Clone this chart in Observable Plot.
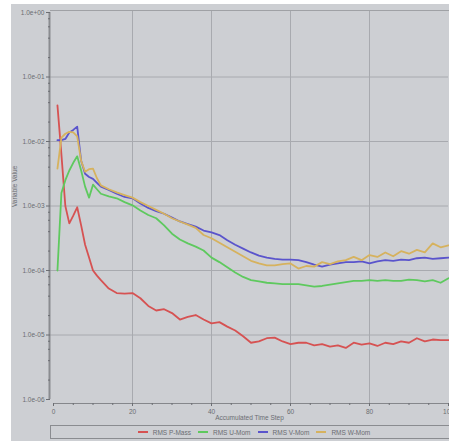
<!DOCTYPE html>
<html><head><meta charset="utf-8">
<script src="https://cdn.jsdelivr.net/npm/d3@7"></script>
<script src="https://cdn.jsdelivr.net/npm/@observablehq/plot@0.6"></script>
<style>
html,body{margin:0;padding:0;background:#fff;overflow:hidden;width:449px;height:441px;}
#panel{position:absolute;left:11px;top:4px;width:438px;height:437px;background:#cdcfd3;}
#chart{position:absolute;left:0;top:0;}
#legend{position:absolute;left:39px;top:421px;width:406px;height:12px;border:1px solid #8a8c90;display:flex;justify-content:center;align-items:center;font:6.5px "Liberation Sans",sans-serif;color:#6b6d72;}
.item{display:flex;align-items:center;margin:0 3.5px;}
.sw{width:10px;height:2px;margin-right:5px;}
</style></head><body>
<div id="panel"><div id="chart"></div><div id="legend"></div></div>
<script>
// Data (values stored as log10 of the residual)
const steps = [1,2,3,4,5,6,7,8,9,10,11,12,14,16,18,20,22,24,26,28,30,32,34,36,38,40,42,44,46,48,50,52,54,56,58,60,62,64,66,68,70,72,74,76,78,80,82,84,86,88,90,92,94,96,98,100];
const pMassLog10 = [-1.44,-2.2,-3.0,-3.27,-3.15,-3.02,-3.3,-3.6,-3.8,-4.0,-4.08,-4.15,-4.28,-4.35,-4.36,-4.35,-4.43,-4.55,-4.62,-4.60,-4.66,-4.76,-4.72,-4.69,-4.76,-4.82,-4.80,-4.87,-4.93,-5.02,-5.12,-5.10,-5.05,-5.04,-5.10,-5.14,-5.12,-5.12,-5.16,-5.14,-5.18,-5.16,-5.20,-5.12,-5.15,-5.13,-5.17,-5.12,-5.14,-5.10,-5.12,-5.05,-5.10,-5.07,-5.08,-5.08];
const uMomLog10 = [-4.0,-2.8,-2.6,-2.45,-2.33,-2.23,-2.45,-2.7,-2.87,-2.67,-2.74,-2.81,-2.85,-2.88,-2.94,-2.99,-3.07,-3.14,-3.19,-3.3,-3.43,-3.52,-3.58,-3.63,-3.69,-3.8,-3.87,-3.95,-4.03,-4.1,-4.15,-4.17,-4.19,-4.2,-4.21,-4.21,-4.21,-4.23,-4.25,-4.24,-4.22,-4.2,-4.18,-4.16,-4.16,-4.15,-4.16,-4.15,-4.16,-4.16,-4.14,-4.15,-4.17,-4.15,-4.19,-4.12];
const vMomLog10 = [-1.98,-1.98,-1.96,-1.86,-1.82,-1.77,-2.3,-2.5,-2.55,-2.58,-2.64,-2.70,-2.75,-2.81,-2.86,-2.88,-2.96,-3.03,-3.08,-3.12,-3.18,-3.24,-3.28,-3.32,-3.38,-3.41,-3.45,-3.53,-3.6,-3.66,-3.72,-3.77,-3.8,-3.82,-3.83,-3.83,-3.84,-3.87,-3.91,-3.94,-3.91,-3.89,-3.87,-3.87,-3.86,-3.89,-3.86,-3.84,-3.85,-3.83,-3.84,-3.81,-3.80,-3.82,-3.81,-3.80];
const wMomLog10 = [-2.42,-1.94,-1.88,-1.85,-1.86,-1.92,-2.3,-2.47,-2.43,-2.42,-2.57,-2.68,-2.74,-2.79,-2.83,-2.87,-2.94,-3.0,-3.06,-3.12,-3.19,-3.24,-3.29,-3.34,-3.45,-3.50,-3.57,-3.64,-3.71,-3.78,-3.85,-3.89,-3.92,-3.92,-3.90,-3.89,-3.97,-3.93,-3.94,-3.87,-3.90,-3.86,-3.84,-3.79,-3.84,-3.76,-3.79,-3.72,-3.78,-3.70,-3.74,-3.68,-3.72,-3.58,-3.64,-3.61];

const seriesNames = ["RMS P-Mass","RMS U-Mom","RMS V-Mom","RMS W-Mom"];
const seriesColors = ["#d65252","#5ec95e","#5a54cc","#d6b25e"];
const yTicks = [1,1e-1,1e-2,1e-3,1e-4,1e-5,1e-6];
const yTickLabels = ["1.0e+00","1.0e-01","1.0e-02","1.0e-03","1.0e-04","1.0e-05","1.0e-06"];
const xTicks = [0,20,40,60,80,100];
const xMinorTicks = [5,10,15,25,30,35,45,50,55,65,70,75,85,90,95];
const yMinorTicks = [];
for (let e = -6; e < 0; e++) for (const m of [2,4,6,8]) yMinorTicks.push(m * Math.pow(10, e));

const seriesLog = [pMassLog10, uMomLog10, vMomLog10, wMomLog10];
const rows = [];
seriesNames.forEach((name, k) => {
  steps.forEach((s, i) => rows.push({step: s, value: Math.pow(10, seriesLog[k][i]), series: name}));
});
const yLabelMap = new Map(yTicks.map((t, i) => [t, yTickLabels[i]]));

const txt = "#6b6d72";
const chart = Plot.plot({
  width: 438, height: 420,
  marginLeft: 39, marginRight: 1, marginTop: 6, marginBottom: 21,
  style: {background: "transparent", fontFamily: "'Liberation Sans', sans-serif", fontSize: "6.5px", color: txt},
  x: {domain: [0, 100], insetLeft: 3, insetRight: 0},
  y: {type: "log", domain: [1e-6, 1], insetTop: 2, insetBottom: 4},
  color: {domain: seriesNames, range: seriesColors},
  marks: [
    Plot.gridX([20,40,60,80], {stroke: "#a8aaaf", strokeOpacity: 1}),
    Plot.gridY(yTicks.slice(1, -1), {stroke: "#a8aaaf", strokeOpacity: 1}),
    Plot.frame({anchor: "top", stroke: "#9fa1a5"}),
    Plot.frame({anchor: "bottom", stroke: "#85878b", insetLeft: 3}),
    Plot.ruleX([0], {y1: 1, y2: 1e-6, dx: -4, stroke: "#8a8c90", strokeWidth: 2}),
    Plot.axisY(yTicks, {tickFormat: d => yLabelMap.get(d), tickSize: 4, tickPadding: 2, stroke: txt, label: null}),
    Plot.axisY(yMinorTicks, {tickSize: 2, text: null, stroke: txt, label: null}),
    Plot.axisX(xTicks, {tickSize: 3, tickPadding: 3, stroke: txt, label: null}),
    Plot.axisX(xMinorTicks, {tickSize: 2, text: null, stroke: txt, label: null}),
    Plot.line(rows, {x: "step", y: "value", z: "series", stroke: "series", strokeWidth: 1.8}),
    Plot.text(["Accumulated Time Step"], {frameAnchor: "bottom", dy: 16, fill: txt}),
    Plot.text(["Variable Value"], {frameAnchor: "left", dx: -36, rotate: -90, fill: txt})
  ]
});
document.getElementById("chart").appendChild(chart);

const legend = document.getElementById("legend");
seriesNames.forEach((name, k) => {
  const it = document.createElement("div");
  it.className = "item";
  const sw = document.createElement("span");
  sw.className = "sw";
  sw.style.background = seriesColors[k];
  const lab = document.createElement("span");
  lab.textContent = name;
  it.appendChild(sw); it.appendChild(lab);
  legend.appendChild(it);
});
</script></body></html>
